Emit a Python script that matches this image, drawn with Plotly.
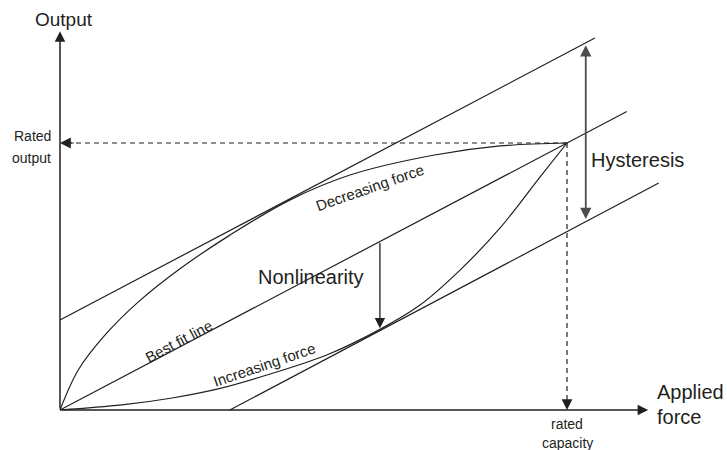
import plotly.graph_objects as go

# ---- data (force and output in % of rated values) ----
rated_force = 100
rated_output = 100

best_fit_force = [0, 111.8]
best_fit_output = [0, 111.8]

upper_force = [0, 105.5]
upper_output = [33.7, 139.3]

lower_force = [33.5, 118.1]
lower_output = [0, 85.0]

decreasing_force = [0, 3.6, 8.9, 15.4, 23.6, 33.5, 45.4, 57.2, 73.6, 86.8, 100]
decreasing_output = [0, 15.0, 28.1, 40.4, 52.8, 65.5, 78.7, 88.0, 95.4, 98.9, 100]

increasing_force = [0, 12.2, 22.1, 31.6, 40.8, 52.6, 63.1, 71.0, 78.9, 86.8, 94.7, 100]
increasing_output = [0, 1.9, 4.5, 8.1, 13.1, 20.6, 30.2, 39.3, 52.4, 68.2, 87.3, 100]

axis_force_max = 116.0
axis_output_max = 141.9

hysteresis_force = 103.7
hysteresis_top = 136.6
hysteresis_bottom = 71.0

nonlin_force = 63.1
nonlin_top = 63.1
nonlin_bottom = 30.6

INK = "#231f20"
FONT = "Liberation Sans, Arial, sans-serif"

fig = go.Figure()

def line(xs, ys, shape="linear", width=1.2, color=INK):
    fig.add_trace(go.Scatter(x=xs, y=ys, mode="lines",
                             line=dict(color=color, width=width, shape=shape, smoothing=1.0),
                             hoverinfo="skip", showlegend=False))

line(best_fit_force, best_fit_output)
line(upper_force, upper_output)
line(lower_force, lower_output)
line(decreasing_force, decreasing_output, shape="spline")
line(increasing_force, increasing_output, shape="spline")

# dashed rated lines
fig.add_shape(type="line", x0=rated_force, y0=rated_output, x1=1.5, y1=rated_output,
              line=dict(color=INK, width=1.2, dash="5px,4px"))
fig.add_shape(type="line", x0=rated_force, y0=rated_output, x1=rated_force, y1=2.5,
              line=dict(color=INK, width=1.2, dash="5px,4px"))

def arrow(x, y, ax, ay, color=INK, width=1.4, size=1.5, side="end"):
    fig.add_annotation(x=x, y=y, ax=ax, ay=ay, xref="x", yref="y", axref="x", ayref="y",
                       text="", showarrow=True, arrowhead=2, arrowsize=size,
                       arrowwidth=width, arrowcolor=color, arrowside=side,
                       standoff=0, startstandoff=0)

# axes
arrow(0, axis_output_max, 0, 0, width=1.5, size=1.4)
arrow(axis_force_max, 0, 0, 0, width=1.5, size=1.4)
# rated arrowheads
arrow(0, rated_output, 3, rated_output, width=1.2, size=1.8)
arrow(rated_force, 0, rated_force, 3, width=1.2, size=1.8)
# hysteresis (double)
arrow(hysteresis_force, hysteresis_top, hysteresis_force, hysteresis_bottom,
      color="#4d4d4f", width=1.8, size=1.25, side="end+start")
# nonlinearity
arrow(nonlin_force, nonlin_bottom, nonlin_force, nonlin_top, width=1.3, size=1.6)

def label(text, x, y, size, xanchor="center", angle=0):
    fig.add_annotation(x=x, y=y, xref="x", yref="y", text=text, showarrow=False,
                       xanchor=xanchor, yanchor="middle", textangle=angle,
                       font=dict(family=FONT, size=size, color=INK))

label("Output", 0.7, 146.4, 19)
label("Rated", -1.4, 102.6, 14, xanchor="right")
label("output", -1.4, 94.4, 14, xanchor="right")
label("Hysteresis", 104.3, 93.6, 20, xanchor="left")
label("Nonlinearity", 49.5, 49.8, 20)
label("Applied", 117.4, 6.7, 20, xanchor="left")
label("force", 117.4, -2.6, 20, xanchor="left")
label("rated", 100, -5.2, 14)
label("capacity", 100, -12.4, 14)
label("Best fit line", 23.3, 25.8, 15, angle=-27.8)
label("Increasing force", 40.4, 16.9, 15, angle=-18.8)
label("Decreasing force", 61.1, 83.5, 15, angle=-19.3)

fig.update_layout(
    width=727, height=450,
    margin=dict(l=0, r=0, t=0, b=0),
    paper_bgcolor="white", plot_bgcolor="white",
    xaxis=dict(range=[-11.834, 131.558], visible=False, fixedrange=True),
    yaxis=dict(range=[-14.981, 153.558], visible=False, fixedrange=True),
    showlegend=False,
)

fig.write_html("out.html",
               config={"displayModeBar": False},
               post_script="document.body.style.margin='0';document.body.style.padding='0';"
                           "document.body.style.overflow='hidden';")
